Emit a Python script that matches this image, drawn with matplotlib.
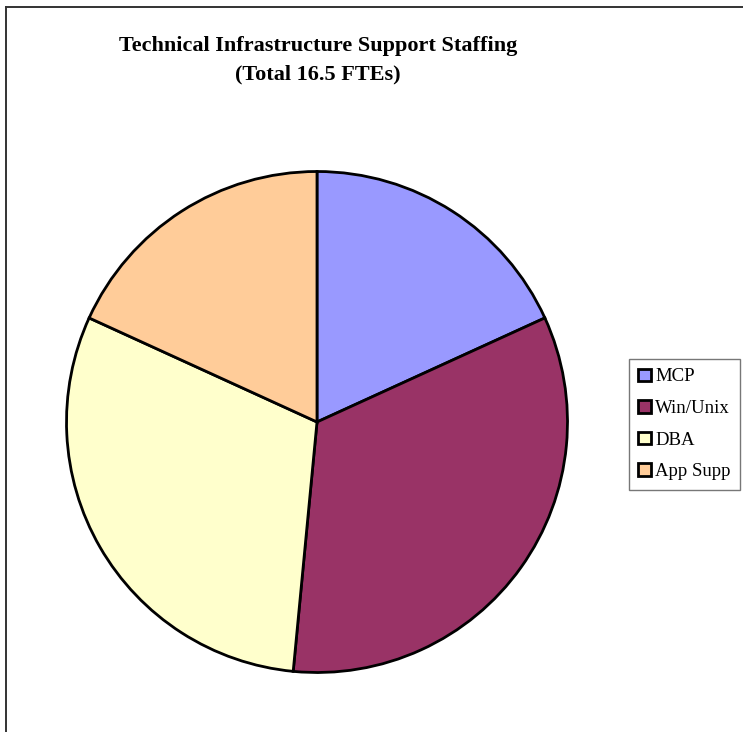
import matplotlib
matplotlib.use("Agg")
import matplotlib.pyplot as plt
from matplotlib.patches import Patch
from matplotlib.lines import Line2D

categories = ["MCP", "Win/Unix", "DBA", "App Supp"]
values = [3.0, 5.5, 5.0, 3.0]
colors = ["#9999FF", "#993366", "#FFFFCC", "#FFCC99"]
title = "Technical Infrastructure Support Staffing\n(Total 16.5 FTEs)"

W, H = 743, 732
fig = plt.figure(figsize=(W/100, H/100), dpi=100)
plt.rcParams['font.family'] = ['Liberation Serif', 'DejaVu Serif']

cx, cy, r = 317, 422, 253
ax = fig.add_axes([(cx - r)/W, 1 - (cy + r)/H, 2*r/W, 2*r/H])
ax.pie(values, colors=colors, startangle=90, counterclock=False,
       wedgeprops=dict(edgecolor="black", linewidth=2.0), radius=1)
ax.set_xlim(-1.01, 1.01)
ax.set_ylim(-1.01, 1.01)
ax.set_aspect('auto')
ax.axis('off')

fig.text(318/W, 1 - 60/H, title, ha='center', va='center', fontsize=16,
         fontweight='bold', linespacing=1.55)

handles = [Patch(facecolor=c, edgecolor='black', linewidth=2.0) for c in colors]
leg = fig.legend(handles, categories, loc='upper left',
                 bbox_to_anchor=(629/W, 1 - 359/H), bbox_transform=fig.transFigure,
                 fontsize=13.5, frameon=True, fancybox=False, edgecolor='#555555',
                 handlelength=0.65, handleheight=0.65, handletextpad=0.25,
                 labelspacing=0.78, borderpad=0.5, borderaxespad=0)
leg.get_frame().set_linewidth(1.0)

# chart frame lines (top and left)
fig.add_artist(Line2D([6.5/W, 6.5/W], [0, 1 - 6.5/H], transform=fig.transFigure,
                      color='#333333', linewidth=1.4))
fig.add_artist(Line2D([6.5/W, 1], [1 - 6.5/H, 1 - 6.5/H], transform=fig.transFigure,
                      color='#333333', linewidth=1.4))

fig.savefig("out.png", dpi=100)
